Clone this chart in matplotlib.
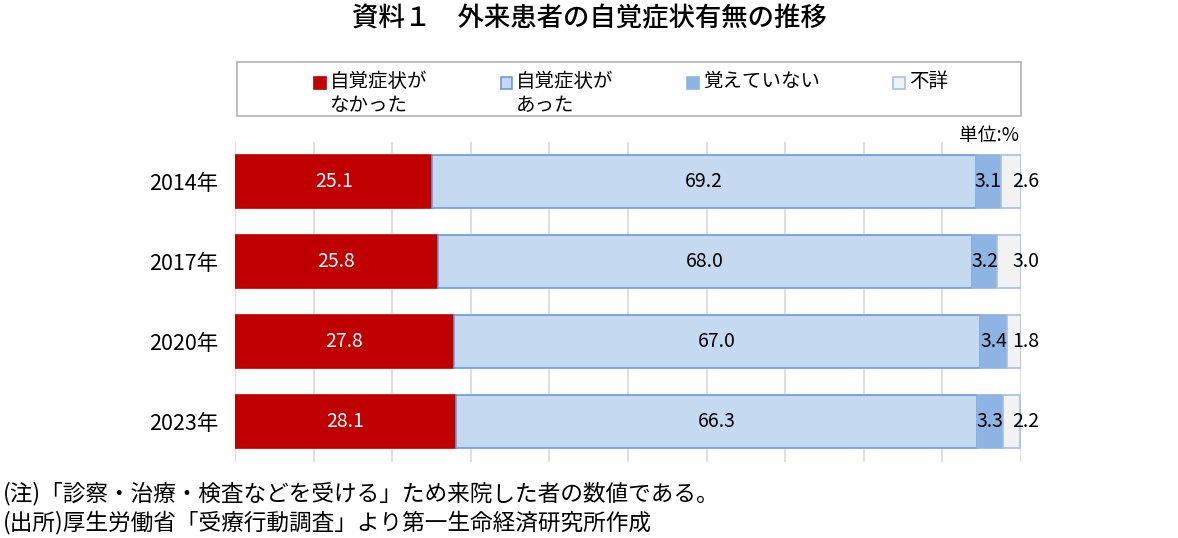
import matplotlib
matplotlib.use("Agg")
import matplotlib.pyplot as plt
import numpy as np

plt.rcParams['font.family'] = ['Noto Sans CJK JP', 'DejaVu Sans']

years = ['2014年', '2017年', '2020年', '2023年']
no_symptom = [25.1, 25.8, 27.8, 28.1]
had_symptom = [69.2, 68.0, 67.0, 66.3]
not_remember = [3.1, 3.2, 3.4, 3.3]
unknown = [2.6, 3.0, 1.8, 2.2]

series = [
    ('自覚症状が\nなかった', no_symptom, '#c00000', '#c00000', 'white'),
    ('自覚症状が\nあった', had_symptom, '#c5d9f1', '#6a9bd8', 'black'),
    ('覚えていない\n ', not_remember, '#8db4e2', '#8db4e2', 'black'),
    ('不詳\n ', unknown, '#f2f2f2', '#a5c0e5', 'black'),
]

fig = plt.figure(figsize=(11.78, 5.38), dpi=100)
ax = fig.add_axes([235 / 1178, 1 - 461.5 / 538, 786 / 1178, 320 / 538])

y = np.arange(len(years))
left = np.zeros(len(years))
handles = []
for label, vals, fc, ec, tc in series:
    vals = np.array(vals)
    bars = ax.barh(y, vals, left=left, height=0.67, color=fc, edgecolor=ec,
                   linewidth=1.2, label=label, zorder=3)
    handles.append(bars)
    for i, v in enumerate(vals):
        if label.startswith('不詳'):
            xpos = 100.6
        else:
            xpos = left[i] + v / 2
        ax.text(xpos, y[i], f'{v:.1f}', ha='center', va='center',
                color=tc, fontsize=14, zorder=4)
    left += vals

ax.set_xlim(0, 100)
ax.set_ylim(3.5, -0.5)
ax.set_xticks(np.arange(0, 101, 10))
ax.xaxis.grid(True, color='#d9d9d9', linewidth=1.2, zorder=0)
ax.tick_params(axis='x', length=0, labelbottom=False)
ax.tick_params(axis='y', length=0, labelsize=15.5, pad=12)
ax.set_yticks(y)
ax.set_yticklabels(years)
for s in ax.spines.values():
    s.set_visible(False)

ax.text(99.7, -0.58, '単位:%', ha='right', va='center', fontsize=13.5,
        zorder=5)

fig.text(0.5, 1 - 19 / 538, '資料１　外来患者の自覚症状有無の推移', ha='center',
         va='center', fontsize=19, fontweight='medium')

# legend frame
frame = plt.Rectangle((237 / 1178, 1 - 116 / 538), 784 / 1178, 54 / 538,
                      transform=fig.transFigure, fill=False,
                      edgecolor='#b0b0b0', linewidth=1.2)
fig.patches.append(frame)
leg = fig.legend(handles=handles, labels=[s[0] for s in series], ncol=4,
                 mode='expand', frameon=False, fontsize=14,
                 bbox_to_anchor=(314 / 1178, 1 - 116 / 538, 634 / 1178, 45 / 538),
                 loc='upper left', borderpad=0, borderaxespad=0,
                 handlelength=0.6, handleheight=0.6, handletextpad=0.2,
                 labelspacing=0.2)
# markers sit on the first line of each label
for h in leg.legend_handles:
    h.set_y(h.get_y() + 8.4)

fig.text(3 / 1178, 1 - 494 / 538, '(注)「診察・治療・検査などを受ける」ため来院した者の数値である。',
         ha='left', va='center', fontsize=16.3)
fig.text(3 / 1178, 1 - 522 / 538, '(出所)厚生労働省「受療行動調査」より第一生命経済研究所作成',
         ha='left', va='center', fontsize=16.3)

fig.savefig('out.png', dpi=100)
